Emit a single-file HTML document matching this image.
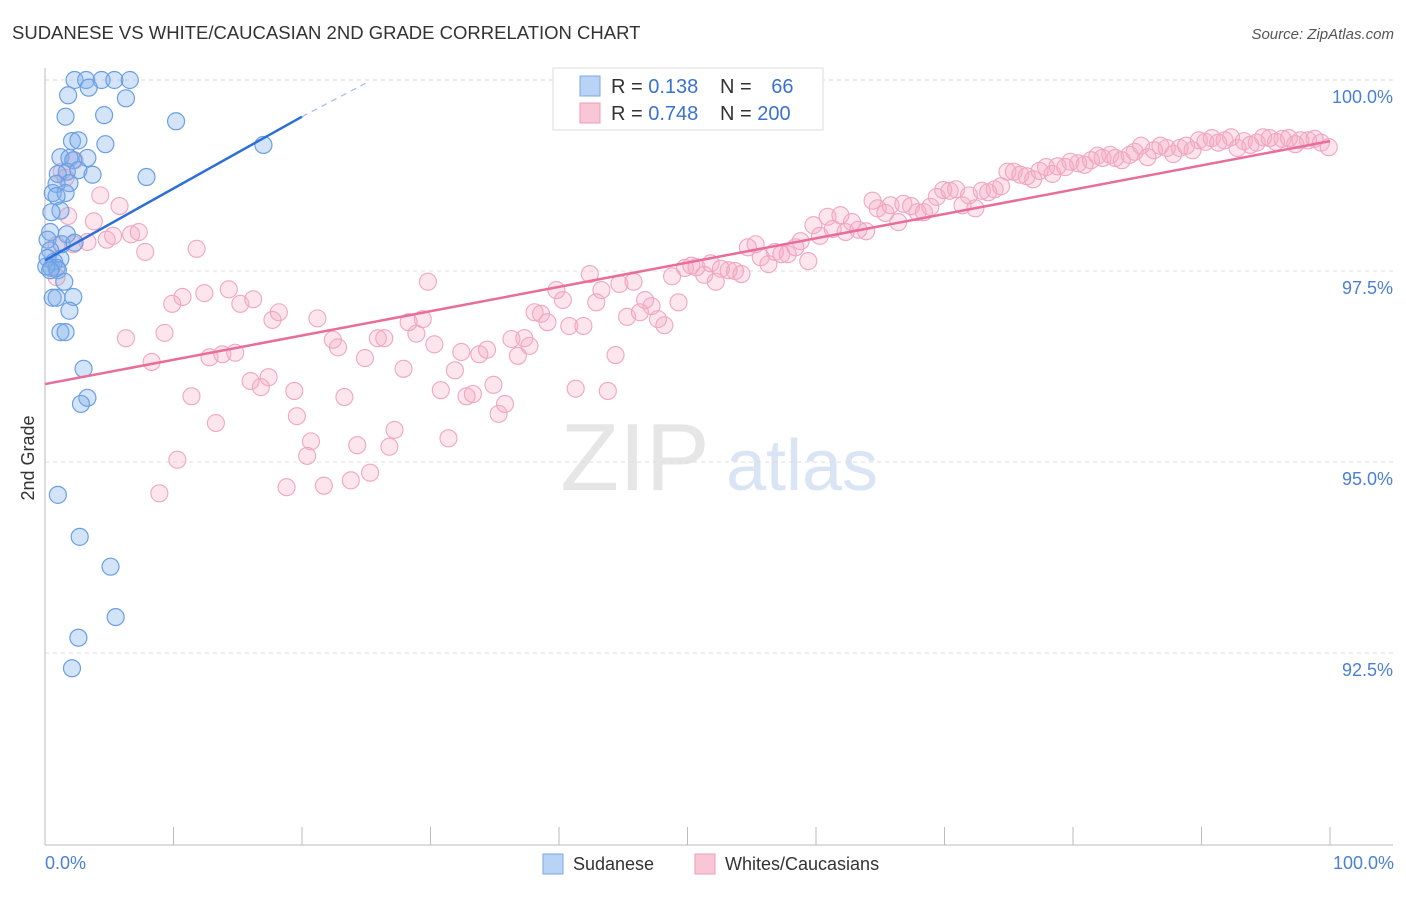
<!DOCTYPE html>
<html><head><meta charset="utf-8">
<style>
body{margin:0;background:#fff;font-family:"Liberation Sans",sans-serif;}
svg text{font-family:"Liberation Sans",sans-serif;}
</style></head>
<body>
<svg id="chart" width="1406" height="892" viewBox="0 0 1406 892">
<text x="12" y="39" font-size="18.5" fill="#333">SUDANESE VS WHITE/CAUCASIAN 2ND GRADE CORRELATION CHART</text>
<text x="1394" y="39" font-size="15" fill="#555" text-anchor="end" font-style="italic">Source: ZipAtlas.com</text>
<g>
<text x="635" y="490" font-size="96" fill="#e6e6e6" text-anchor="middle" font-family="Liberation Serif">ZIP</text>
<text x="802" y="490" font-size="72" fill="#d9e4f4" text-anchor="middle">atlas</text>
</g>
<g id="grid"></g>
<g id="axes"></g>
<g id="pinkpts"></g>
<g id="bluepts"></g>
<g id="trends"></g>
<text x="34" y="458" font-size="18" fill="#333" text-anchor="middle" transform="rotate(-90 34 458)">2nd Grade</text>
<text x="45" y="869" font-size="18" fill="#4a7fd4">0.0%</text>
<text x="1394" y="869" font-size="18" fill="#4a7fd4" text-anchor="end">100.0%</text>
<g>
<rect x="553" y="68" width="270" height="62" fill="#fff" stroke="#ddd"/>
<rect x="580" y="76" width="20" height="20" fill="#b8d3f5" stroke="#7aa8e6"/>
<rect x="580" y="103" width="20" height="20" fill="#f9c6d6" stroke="#ee9bb8"/>
<text x="611" y="93" font-size="20" fill="#333">R = <tspan fill="#3a72d0">0.138</tspan></text>
<text x="720" y="93" font-size="20" fill="#333">N = <tspan fill="#3a72d0" dx="14">66</tspan></text>
<text x="611" y="120" font-size="20" fill="#333">R = <tspan fill="#3a72d0">0.748</tspan></text>
<text x="720" y="120" font-size="20" fill="#333">N = <tspan fill="#3a72d0">200</tspan></text>
</g>
<g>
<rect x="543" y="854" width="20" height="20" fill="#b8d3f5" stroke="#7aa8e6"/>
<text x="573" y="870" font-size="18" fill="#333">Sudanese</text>
<rect x="695" y="854" width="20" height="20" fill="#f9c6d6" stroke="#ee9bb8"/>
<text x="725" y="870" font-size="18" fill="#333">Whites/Caucasians</text>
</g>
</svg>
<script>
const yTicks=[100,97.5,95,92.5];
const yTickLabels=["100.0%","97.5%","95.0%","92.5%"];
const xTicks=[0,10,20,30,40,50,60,70,80,90,100];
const blueX=[2.3,3.2,4.4,5.4,6.6,3.4,1.8,6.3,1.6,4.6,10.2,2.1,2.6,4.7,17.0,1.2,1.9,3.3,2.2,1.7,2.6,3.7,1.0,7.9,1.9,0.9,0.6,1.6,0.9,1.2,0.5,1.7,0.4,0.2,1.3,2.3,0.4,1.2,0.2,0.7,0.5,0.9,1.0,1.5,2.2,0.6,0.9,1.9,1.2,1.6,3.0,3.3,2.8,1.0,2.7,5.1,5.5,2.6,2.1,0.1,0.4];
const blueY=[100,100,100,100,100,99.9,99.8,99.76,99.52,99.54,99.46,99.2,99.21,99.16,99.15,98.99,98.98,98.98,98.95,98.8,98.82,98.76,98.77,98.73,98.65,98.64,98.52,98.52,98.48,98.29,98.27,97.98,98.01,97.91,97.85,97.87,97.77,97.66,97.67,97.62,97.54,97.54,97.51,97.36,97.16,97.15,97.15,96.98,96.7,96.7,96.22,95.84,95.76,94.57,94.02,93.63,92.97,92.7,92.3,97.56,97.51];
const pinkX=[2.3,1.3,1.6,4.3,1.8,3.8,5.8,0.9,2.2,3.3,4.8,5.3,6.7,7.3,7.8,11.8,0.9,6.3,8.3,9.3,9.9,10.7,12.4,14.3,15.2,16.2,17.7,18.2,21.2,12.8,13.8,14.8,11.4,13.3,10.3,8.9,16.0,16.8,17.4,19.4,19.6,20.7,20.4,18.8,21.7,22.4,22.8,23.3,24.3,23.8,25.3,24.9,25.9,26.4,27.9,26.8,27.2,28.3,28.9,29.4,29.8,30.3,30.8,31.4,31.9,32.4,32.8,33.3,33.8,34.4,34.9,35.3,35.8,36.3,36.8,37.3,37.7,38.1,38.6,39.1,39.8,40.3,40.8,41.3,41.9,42.4,42.9,43.3,43.8,44.4,44.7,45.3,45.8,46.3,46.7,47.2,47.7,48.2,48.8,49.3,49.8,50.3,50.7,51.3,51.8,52.2,52.6,53.2,53.7,54.2,54.7,55.3,55.7,56.3,56.8,57.3,57.8,58.4,58.8,59.4,59.8,60.3,60.9,61.3,61.9,62.3,62.8,63.3,63.9,64.4,64.8,65.4,65.8,66.4,66.8,67.4,67.9,68.4,68.9,69.4,69.9,70.4,70.9,71.4,71.9,72.4,72.9,73.4,73.9,74.4,74.9,75.4,75.9,76.4,76.9,77.4,77.9,78.4,78.8,79.4,79.8,80.4,80.9,81.4,81.9,82.3,82.9,83.3,83.8,84.4,84.8,85.3,85.8,86.3,86.8,87.3,87.8,88.3,88.8,89.3,89.8,90.3,90.8,91.3,91.8,92.3,92.8,93.3,93.8,94.3,94.8,95.3,95.8,96.3,96.8,97.3,97.7,98.3,98.8,99.3,99.9];
const pinkY=[98.95,98.80,98.72,98.49,98.22,98.15,98.35,97.84,97.85,97.88,97.91,97.96,97.98,98.01,97.75,97.79,97.42,96.62,96.31,96.69,97.07,97.16,97.21,97.26,97.07,97.13,96.86,96.96,96.88,96.37,96.41,96.43,95.86,95.51,95.03,94.59,96.06,95.98,96.11,95.93,95.60,95.27,95.08,94.67,94.69,96.60,96.50,95.85,95.22,94.76,94.86,96.36,96.62,96.62,96.22,95.20,95.42,96.83,96.68,96.87,97.36,96.54,95.94,95.31,96.20,96.44,95.86,95.89,96.41,96.47,96.01,95.63,95.76,96.61,96.39,96.62,96.52,96.96,96.94,96.83,97.25,97.12,96.78,95.96,96.78,97.46,97.09,97.25,95.93,96.40,97.33,96.90,97.36,96.96,97.12,97.04,96.87,96.79,97.43,97.09,97.54,97.57,97.55,97.45,97.60,97.36,97.53,97.51,97.50,97.46,97.81,97.85,97.68,97.59,97.75,97.72,97.72,97.81,97.89,97.63,98.10,97.96,98.21,98.05,98.23,98.01,98.14,98.04,98.02,98.42,98.32,98.26,98.36,98.14,98.38,98.35,98.27,98.27,98.34,98.47,98.56,98.55,98.57,98.36,98.49,98.32,98.55,98.53,98.57,98.61,98.80,98.80,98.76,98.74,98.70,98.81,98.86,98.77,98.87,98.86,98.93,98.91,98.89,98.95,99.01,98.98,99.02,98.98,98.95,99.02,99.06,99.14,98.99,99.08,99.14,99.11,99.03,99.11,99.14,99.08,99.21,99.19,99.24,99.18,99.21,99.25,99.11,99.20,99.15,99.18,99.25,99.24,99.19,99.23,99.24,99.16,99.21,99.21,99.23,99.18,99.12];
const pinkTrend=[[0,96.02],[100,99.2]];
const blueTrend=[[0,97.64],[20,99.52]];
const blueTrendExt=[[20,99.52],[25.1,99.97]];

const NS="http://www.w3.org/2000/svg";
function X(v){return 45+v*12.85;}
function Y(v){return 80+(100-v)*76.4;}
function mk(tag,attrs,parent){const e=document.createElementNS(NS,tag);for(const k in attrs)e.setAttribute(k,attrs[k]);parent.appendChild(e);return e;}
const grid=document.getElementById('grid'),axes=document.getElementById('axes');
yTicks.forEach((t,i)=>{
  const l=mk('line',{x1:45,x2:1393,y1:Y(t),y2:Y(t),stroke:'#ddd','stroke-dasharray':'4 4'},grid);
  
  
  const tx=mk('text',{x:1393,y:Y(t)+23,'font-size':18,fill:'#4a7fd4','text-anchor':'end'},axes);
  tx.textContent=yTickLabels[i];
  
  
});
const ya=mk('line',{x1:45,x2:45,y1:68,y2:845,stroke:'#bbb'},axes);


const xa=mk('line',{x1:45,x2:1393,y1:845,y2:845,stroke:'#bbb'},axes);


xTicks.forEach(t=>{
  const l=mk('line',{x1:X(t),x2:X(t),y1:827,y2:845,stroke:'#bbb'},axes);
  
  
});
const pg=document.getElementById('pinkpts');
pinkX.forEach((x,i)=>{
  const c=mk('circle',{cx:X(x),cy:Y(pinkY[i]),r:8.5,fill:'rgba(246,170,196,0.3)',stroke:'#f0a6c0','stroke-width':1.1},pg);
  
  
});
const bg=document.getElementById('bluepts');
blueX.forEach((x,i)=>{
  const c=mk('circle',{cx:X(x),cy:Y(blueY[i]),r:8.5,fill:'rgba(130,175,235,0.35)',stroke:'#6b9fe3','stroke-width':1.2},bg);
  
  
});
const tg=document.getElementById('trends');
const pt=mk('line',{x1:X(pinkTrend[0][0]),y1:Y(pinkTrend[0][1]),x2:X(pinkTrend[1][0]),y2:Y(pinkTrend[1][1]),stroke:'#e86d98','stroke-width':2.5},tg);


const bt=mk('line',{x1:X(blueTrend[0][0]),y1:Y(blueTrend[0][1]),x2:X(blueTrend[1][0]),y2:Y(blueTrend[1][1]),stroke:'#2d6fd8','stroke-width':2.5},tg);


const be=mk('line',{x1:X(blueTrendExt[0][0]),y1:Y(blueTrendExt[0][1]),x2:X(blueTrendExt[1][0]),y2:Y(blueTrendExt[1][1]),stroke:'#9dbdea','stroke-width':1.2,'stroke-dasharray':'6 5'},tg);


</script>
</body></html>
